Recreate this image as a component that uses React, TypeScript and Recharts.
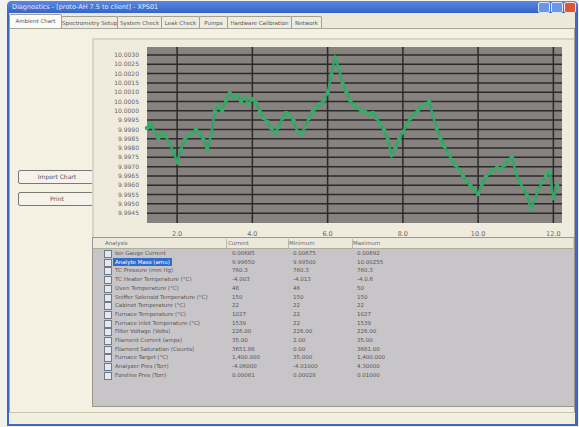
import { CartesianGrid, Line, LineChart, XAxis, YAxis } from 'recharts'

// elapsed time (minutes) of each sample
const times = [
  1.2, 1.3, 1.4, 1.5, 1.6, 1.7, 1.8, 1.9, 2.0, 2.1,
  2.2, 2.3, 2.4, 2.5, 2.6, 2.7, 2.8, 2.9, 3.0, 3.1,
  3.2, 3.3, 3.4, 3.5, 3.6, 3.7, 3.8, 3.9, 4.0, 4.1,
  4.2, 4.3, 4.4, 4.5, 4.6, 4.7, 4.8, 4.9, 5.0, 5.1,
  5.2, 5.3, 5.4, 5.5, 5.6, 5.7, 5.8, 5.9, 6.0, 6.1,
  6.2, 6.3, 6.4, 6.5, 6.6, 6.7, 6.8, 6.9, 7.0, 7.1,
  7.2, 7.3, 7.4, 7.5, 7.6, 7.7, 7.8, 7.9, 8.0, 8.1,
  8.2, 8.3, 8.4, 8.5, 8.6, 8.7, 8.8, 8.9, 9.0, 9.1,
  9.2, 9.3, 9.4, 9.5, 9.6, 9.7, 9.8, 9.9, 10.0, 10.1,
  10.2, 10.3, 10.4, 10.5, 10.6, 10.7, 10.8, 10.9, 11.0, 11.1,
  11.2, 11.3, 11.4, 11.5, 11.6, 11.7, 11.8, 11.9, 12.0, 12.1,
]

// analyte mass readings
const massValues = [
  9.99908, 9.99929, 9.99886, 9.99854, 9.99881, 9.99865, 9.99822, 9.99779, 9.99725, 9.99789,
  9.99843, 9.99865, 9.99875, 9.99902, 9.99881, 9.99843, 9.99795, 9.99865, 9.99994, 10.00026,
  10.00004, 10.00058, 10.00096, 10.00069, 10.00085, 10.00053, 10.00069, 10.00037, 10.00063, 10.00042,
  9.99994, 9.99961, 9.9994, 9.99908, 9.99881, 9.99913, 9.99961, 9.99988, 9.99972, 9.99945,
  9.99886, 9.99875, 9.99913, 9.99961, 9.99994, 10.00015, 10.00037, 10.00058, 10.00096, 10.00192,
  10.00284, 10.0023, 10.00144, 10.00101, 10.00058, 10.00026, 10.00015, 9.99999, 9.99994, 9.99983,
  9.99988, 9.99961, 9.99929, 9.99897, 9.99843, 9.99762, 9.998, 9.99848, 9.99886, 9.99924,
  9.99961, 9.99983, 10.00004, 10.00026, 10.00037, 10.00047, 9.99972, 9.99908, 9.99854, 9.99811,
  9.99773, 9.99736, 9.99709, 9.99682, 9.9965, 9.99623, 9.99596, 9.99574, 9.99553, 9.99606,
  9.99644, 9.99666, 9.99682, 9.99693, 9.99687, 9.99709, 9.99736, 9.99752, 9.99671, 9.99617,
  9.99585, 9.99542, 9.99477, 9.9952, 9.99574, 9.99617, 9.9965, 9.99676, 9.99531, 9.99596,
]

const xTicks = [2, 4, 6, 8, 10, 12]
const yTicks = [
  10.003, 10.0025, 10.002, 10.0015, 10.001, 10.0005, 10.0, 9.9995, 9.999,
  9.9985, 9.998, 9.9975, 9.997, 9.9965, 9.996, 9.9955, 9.995, 9.9945,
]

const tabs = [
  'Ambient Chart', 'Spectrometry Setup', 'System Check', 'Leak Check',
  'Pumps', 'Hardware Calibration', 'Network',
]
const tabWidths = [52, 56, 44, 38, 28, 64, 30]

const columns = ['Analysis', 'Current', 'Minimum', 'Maximum']
const rowNames = [
  'Ion Gauge Current', 'Analyte Mass (amu)', 'TC Pressure (mm Hg)',
  'TC Heater Temperature (°C)', 'Oven Temperature (°C)',
  'Sniffer Solenoid Temperature (°C)', 'Cabinet Temperature (°C)',
  'Furnace Temperature (°C)', 'Furnace Inlet Temperature (°C)',
  'Filter Voltage (Volts)', 'Filament Current (amps)',
  'Filament Saturation (Counts)', 'Furnace Target (°C)',
  'Analyzer Pres (Torr)', 'Foreline Pres (Torr)',
]
const currentVals = [
  '0.00685', '9.99650', '760.3', '-4.003', '46', '150', '22', '1027', '1539',
  '226.00', '35.00', '3651.86', '1,400.000', '-4.06000', '0.00061',
]
const minVals = [
  '0.00675', '9.99500', '760.3', '-4.013', '46', '150', '22', '22', '22',
  '226.00', '2.00', '0.00', '35.000', '-4.01000', '0.00028',
]
const maxVals = [
  '0.00692', '10.00255', '760.3', '-4.0.6', '50', '150', '22', '1027', '1539',
  '226.00', '35.00', '3661.00', '1,400.000', '4.30000', '0.01000',
]

const chartData = times.map((t, i) => ({ t, mass: massValues[i] }))
const ui = 'Tahoma, "DejaVu Sans", sans-serif'
const colX = [113, 232, 293, 357]

function Button({ top, label }: { top: number; label: string }) {
  return (
    <div
      style={{
        position: 'absolute', left: 18, top, width: 76, height: 12,
        background: '#f4f2ea', border: '1px solid #7a7a70', borderRadius: 2,
        fontSize: 6, lineHeight: '12px', textAlign: 'center', color: '#555',
      }}
    >
      {label}
    </div>
  )
}

export default function App() {
  return (
    <div
      style={{
        position: 'absolute', left: 0, top: 0, width: 579, height: 427,
        background: '#f3f1ec', overflow: 'hidden', fontFamily: ui,
      }}
    >
      {/* window frame */}
      <div
        style={{
          position: 'absolute', left: 7, top: 1, width: 571, height: 425,
          background: '#3a68c8', borderRadius: '5px 5px 0 0',
        }}
      />
      <div
        style={{
          position: 'absolute', left: 7, top: 1, width: 571, height: 12,
          background: 'linear-gradient(#5a88e0, #3565c8)', borderRadius: '5px 5px 0 0',
        }}
      />
      <div style={{ position: 'absolute', left: 12, top: 3, fontSize: 6.5, color: '#e4ecff', whiteSpace: 'nowrap' }}>
        Diagnostics - [proto-AH 7.5 to client] - XPS01
      </div>
      <div style={{ position: 'absolute', left: 538, top: 2, width: 10, height: 9, background: '#6b95e6', border: '1px solid #dfe8ff', borderRadius: 2 }} />
      <div style={{ position: 'absolute', left: 551, top: 2, width: 10, height: 9, background: '#6b95e6', border: '1px solid #dfe8ff', borderRadius: 2 }} />
      <div style={{ position: 'absolute', left: 564, top: 2, width: 10, height: 9, background: '#d9573a', border: '1px solid #ffe0d8', borderRadius: 2 }} />

      {/* client area */}
      <div style={{ position: 'absolute', left: 9, top: 13, width: 566, height: 410, background: '#ece9d8' }} />

      {/* tabs */}
      {tabs.map((name, i) => {
        const left = 9 + tabWidths.slice(0, i).reduce((a, b) => a + b, 0)
        return (
          <div
            key={name}
            style={{
              position: 'absolute', left, top: i === 0 ? 14 : 16, width: tabWidths[i] - 1,
              height: i === 0 ? 14 : 12, background: i === 0 ? '#fbfaf5' : '#eeecdf',
              border: '1px solid #a09f94', borderBottom: 'none', borderRadius: '2px 2px 0 0',
              fontSize: 5.5, lineHeight: '12px', textAlign: 'center', color: '#555',
              whiteSpace: 'nowrap', overflow: 'hidden',
            }}
          >
            {name}
          </div>
        )
      })}

      {/* tab page */}
      <div
        style={{
          position: 'absolute', left: 9, top: 28, width: 564, height: 383,
          background: '#f4f1e2', border: '1px solid #a5a599',
        }}
      />
      <Button top={170} label="Import Chart" />
      <Button top={192} label="Print" />

      {/* chart panel */}
      <div
        style={{
          position: 'absolute', left: 92, top: 38, width: 480, height: 199,
          background: '#efecdd', borderTop: '2px solid #d8d5c5', borderLeft: '2px solid #d8d5c5',
        }}
      />
      <div style={{ position: 'absolute', left: 100, top: 40 }}>
        <LineChart width={470} height={197} data={chartData} margin={{ top: 7, right: 8, left: 0, bottom: 0 }}>
          <CartesianGrid
            stroke="#2a2a2a"
            strokeWidth={1.5}
            fill="#86827f"
            fillOpacity={1}
            horizontalValues={yTicks}
            verticalValues={xTicks}
          />
          <XAxis
            dataKey="t"
            type="number"
            domain={[1.2, 12.23]}
            ticks={xTicks}
            tickFormatter={(v) => Number(v).toFixed(1)}
            axisLine={false}
            tickLine={false}
            height={14}
            tick={{ fontSize: 6.5, fill: '#666', fontFamily: ui }}
          />
          <YAxis
            type="number"
            domain={[9.99397, 10.00343]}
            ticks={yTicks}
            tickFormatter={(v) => Number(v).toFixed(4)}
            axisLine={false}
            tickLine={false}
            width={47}
            interval={0}
            tick={{ fontSize: 6, fill: '#666', fontFamily: ui }}
          />
          <Line
            dataKey="mass"
            stroke="#32a565"
            strokeWidth={2.5}
            dot={{ r: 2.3, fill: '#38ad6a', stroke: 'none' }}
            isAnimationActive={false}
          />
        </LineChart>
      </div>

      {/* analysis list */}
      <div style={{ position: 'absolute', left: 92, top: 237, width: 481, height: 168, background: '#c8c5c8', border: '1px solid #9a978c' }} />
      <div style={{ position: 'absolute', left: 93, top: 238, width: 480, height: 10, background: '#ece9dc', borderBottom: '1px solid #b0ad9f' }} />
      {columns.map((c, i) => (
        <div key={c} style={{ position: 'absolute', left: i === 0 ? 105 : colX[i] - 4, top: 238, fontSize: 5.5, lineHeight: '10px', color: '#666' }}>
          {c}
        </div>
      ))}
      {[226, 288, 352].map((x) => (
        <div key={x} style={{ position: 'absolute', left: x, top: 239, width: 1, height: 9, background: '#bdbaa8' }} />
      ))}
      {rowNames.map((name, i) => {
        const top = 249 + i * 8.7
        return (
          <div key={name}>
            <div style={{ position: 'absolute', left: 104, top: top + 1, width: 6, height: 6, border: '1px solid #6d7a8a', background: '#e8e8ec' }} />
            <div
              style={{
                position: 'absolute', left: colX[0], top, height: 8.5, padding: '0 2px',
                background: i === 1 ? '#2f6ccb' : 'transparent', color: i === 1 ? '#fff' : '#555',
                fontSize: 5.5, lineHeight: '8.5px', whiteSpace: 'nowrap',
              }}
            >
              {name}
            </div>
            <div style={{ position: 'absolute', left: colX[1], top, fontSize: 5.5, lineHeight: '8.5px', color: '#555' }}>{currentVals[i]}</div>
            <div style={{ position: 'absolute', left: colX[2], top, fontSize: 5.5, lineHeight: '8.5px', color: '#555' }}>{minVals[i]}</div>
            <div style={{ position: 'absolute', left: colX[3], top, fontSize: 5.5, lineHeight: '8.5px', color: '#555' }}>{maxVals[i]}</div>
          </div>
        )
      })}

      {/* status strip */}
      <div style={{ position: 'absolute', left: 9, top: 412, width: 566, height: 11, background: '#f3efdf', borderTop: '1px solid #c9c6b6' }} />
    </div>
  )
}
